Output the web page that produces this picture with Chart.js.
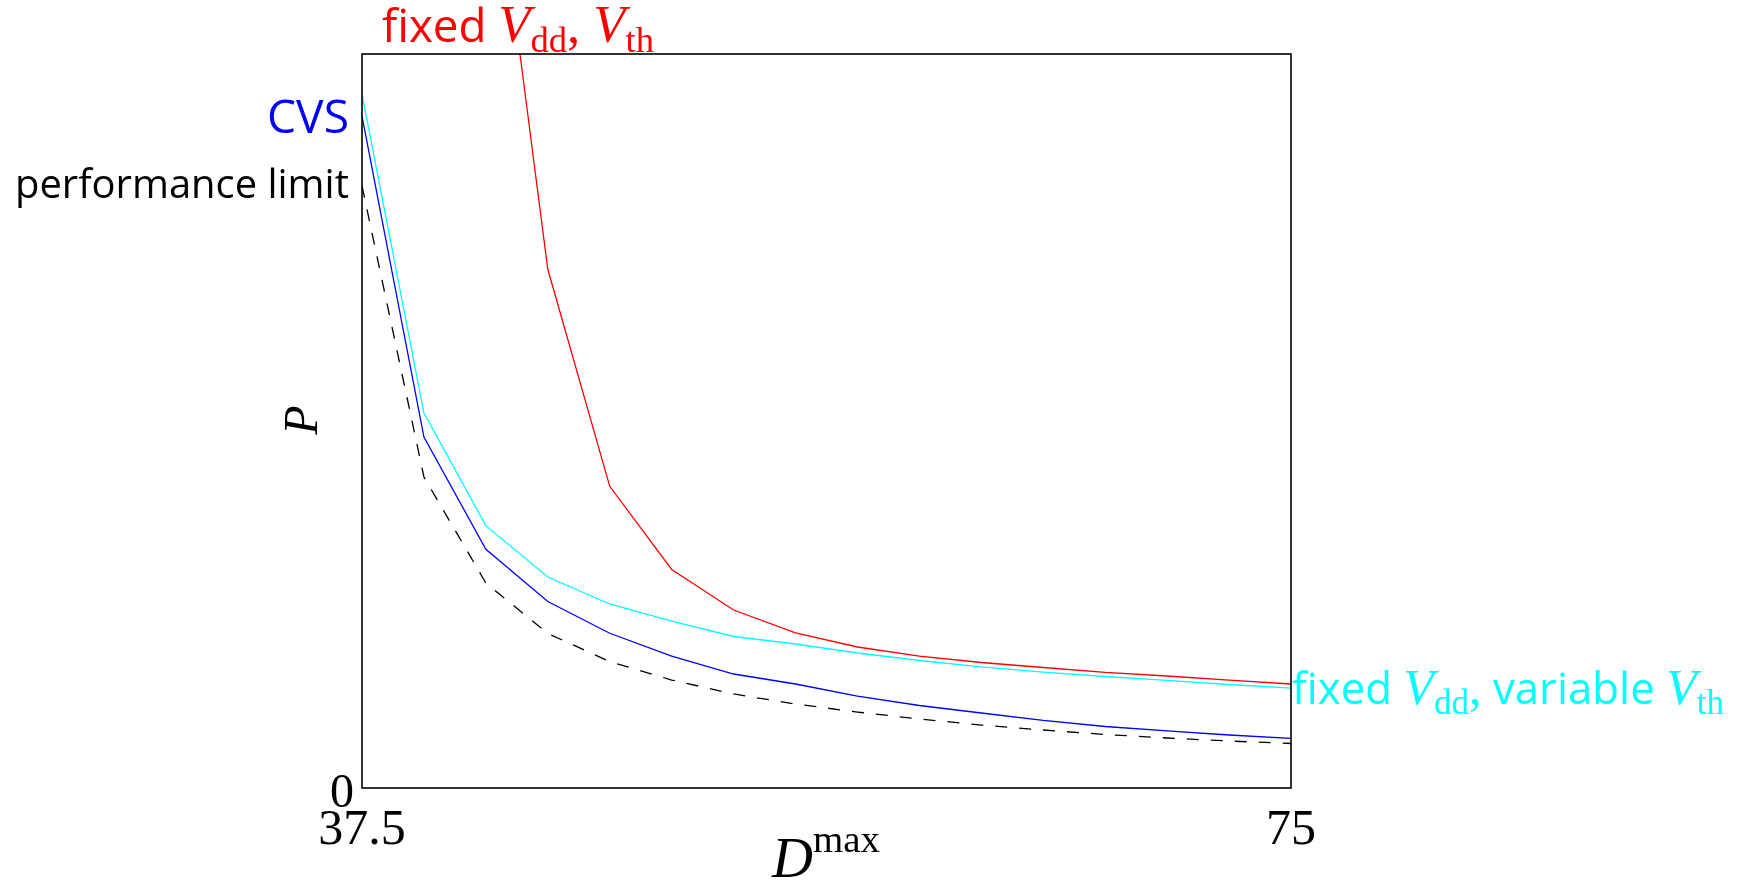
<!DOCTYPE html>
<html><head><meta charset="utf-8">
<script src="https://cdn.jsdelivr.net/npm/chart.js@4/dist/chart.umd.min.js"></script>
<style>html,body{margin:0;padding:0;background:#fff;}canvas{display:block;}</style>
</head><body>
<canvas id="c" width="1747" height="882"></canvas>
<script>
// ---- data ----
const dMax = [37.5, 40, 42.5, 45, 47.5, 50, 52.5, 55, 57.5, 60, 62.5, 65, 67.5, 70, 72.5, 75];
const pFixedVddVth = [null, null, 135.9, 70.67, 41.10, 29.77, 24.25, 21.12, 19.21, 17.98, 17.10, 16.42, 15.74, 15.26, 14.71, 14.17];
const pFixedVddVarVth = [94.55, 51.09, 35.74, 28.75, 25.07, 22.75, 20.64, 19.62, 18.39, 17.37, 16.49, 15.80, 15.19, 14.65, 14.10, 13.62];
const pCVS = [91.55, 47.82, 32.52, 25.41, 21.08, 17.98, 15.53, 14.17, 12.53, 11.24, 10.22, 9.20, 8.38, 7.77, 7.22, 6.77];
const pPerfLimit = [82.02, 42.37, 27.93, 21.05, 17.23, 14.71, 12.81, 11.44, 10.35, 9.40, 8.58, 7.90, 7.29, 6.81, 6.40, 6.06];
const xTickValues = [37.5, 75];
const yTickValues = [0];
const xRange = [37.5, 75];
const yRange = [0, 100];

const pts = arr => dMax.map((x, i) => ({x: x, y: arr[i]}));

const SERIF = '"Liberation Serif", "Times New Roman", serif';
const SANS = '"Open Sans", "DejaVu Sans", sans-serif';
const fSans = s => k => `${(s * k).toFixed(2)}px ${SANS}`;
const fIt = s => k => `italic ${(s * k).toFixed(2)}px ${SERIF}`;
const fRm = s => k => `${(s * k).toFixed(2)}px ${SERIF}`;

function drawRuns(ctx, runs, x, y, targetWidth, align, color) {
  let w = 0;
  runs.forEach(r => { ctx.font = r.f(1); w += ctx.measureText(r.t).width; });
  const k = targetWidth ? targetWidth / w : 1;
  let cx = align === 'right' ? x - w * k : x;
  ctx.fillStyle = color;
  ctx.textAlign = 'left';
  ctx.textBaseline = 'alphabetic';
  runs.forEach(r => {
    ctx.font = r.f(k);
    ctx.fillText(r.t, cx, y + (r.dy || 0) * k);
    cx += ctx.measureText(r.t).width;
  });
}

const labelPlugin = {
  id: 'labels',
  afterDraw(chart) {
    const ctx = chart.ctx;
    const a = chart.chartArea;
    ctx.save();
    // frame
    ctx.strokeStyle = '#000';
    ctx.lineWidth = 1.6;
    ctx.strokeRect(a.left, a.top, a.right - a.left, a.bottom - a.top);

    // red label
    drawRuns(ctx, [
      {t: 'fixed ', f: fSans(40)},
      {t: 'V', f: fIt(46)},
      {t: 'dd', f: fRm(32), dy: 9},
      {t: ', ', f: fRm(46)},
      {t: 'V', f: fIt(46)},
      {t: 'th', f: fRm(32), dy: 9}
    ], 382, 42, 272, 'left', '#ff0000');

    // cyan label
    drawRuns(ctx, [
      {t: 'fixed ', f: fSans(40)},
      {t: 'V', f: fIt(46)},
      {t: 'dd', f: fRm(32), dy: 9},
      {t: ',', f: fRm(46)},
      {t: ' variable ', f: fSans(40)},
      {t: 'V', f: fIt(46)},
      {t: 'th', f: fRm(32), dy: 9}
    ], 1292, 704, 432, 'left', '#00ffff');

    drawRuns(ctx, [{t: 'CVS', f: fSans(44)}], 349, 133, 82, 'right', '#0000ff');
    drawRuns(ctx, [{t: 'performance limit', f: fSans(40)}], 349, 198, 334, 'right', '#000000');

    // x axis title D^max
    drawRuns(ctx, [
      {t: 'D', f: fIt(48)},
      {t: 'max', f: fRm(33), dy: -21}
    ], 772, 877, 108, 'left', '#000000');

    // y axis title P (rotated)
    ctx.save();
    ctx.translate(317, 420);
    ctx.rotate(-Math.PI / 2);
    ctx.font = `italic 48px ${SERIF}`;
    ctx.fillStyle = '#000';
    ctx.textAlign = 'center';
    ctx.textBaseline = 'alphabetic';
    ctx.fillText('P', 0, 0);
    ctx.restore();

    ctx.restore();
  }
};

const lineStyle = (color, dash) => ({
  borderColor: color, backgroundColor: color, borderWidth: 1.3,
  borderDash: dash || [], pointRadius: 0, tension: 0, fill: false, spanGaps: false
});

new Chart(document.getElementById('c'), {
  type: 'line',
  data: {
    datasets: [
      Object.assign({label: 'performance limit', data: pts(pPerfLimit)}, lineStyle('#000000', [12, 12])),
      Object.assign({label: 'CVS', data: pts(pCVS)}, lineStyle('#0000ff')),
      Object.assign({label: 'fixed Vdd, variable Vth', data: pts(pFixedVddVarVth)}, lineStyle('#00ffff')),
      Object.assign({label: 'fixed Vdd, Vth', data: pts(pFixedVddVth)}, lineStyle('#ff0000'))
    ]
  },
  options: {
    responsive: false,
    devicePixelRatio: 1,
    animation: false,
    events: [],
    layout: {padding: {left: 282, right: 456, top: 54, bottom: 34}},
    plugins: {legend: {display: false}, tooltip: {enabled: false}, title: {display: false}},
    scales: {
      x: {
        type: 'linear', min: xRange[0], max: xRange[1],
        afterBuildTicks: s => { s.ticks = xTickValues.map(v => ({value: v})); },
        afterFit: s => { s.height = 60; },
        grid: {display: false, drawTicks: false},
        border: {display: false},
        ticks: {
          autoSkip: false, maxRotation: 0, padding: 13, color: '#000',
          font: {family: 'Liberation Serif', size: 50},
          callback: v => String(v)
        }
      },
      y: {
        type: 'linear', min: yRange[0], max: yRange[1],
        afterBuildTicks: s => { s.ticks = yTickValues.map(v => ({value: v})); },
        afterFit: s => { s.width = 80; },
        grid: {display: false, drawTicks: false},
        border: {display: false},
        ticks: {
          padding: 8, color: '#000', labelOffset: 6,
          font: {family: 'Liberation Serif', size: 48},
          callback: v => String(v)
        }
      }
    }
  },
  plugins: [labelPlugin]
});
</script>
</body></html>
